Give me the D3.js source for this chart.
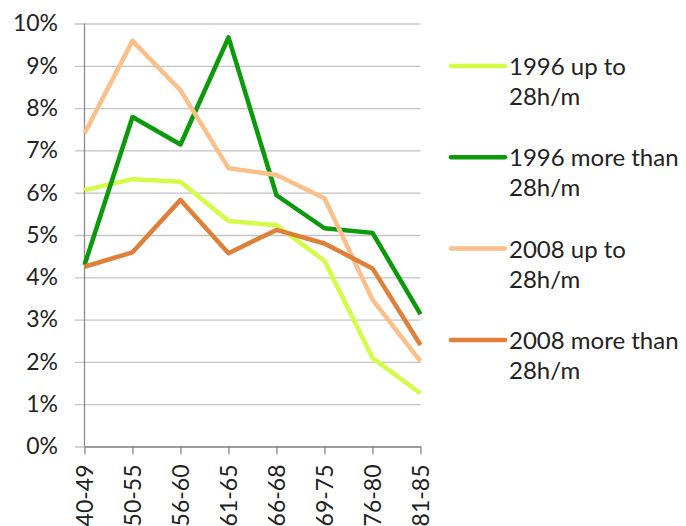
<!DOCTYPE html>
<html>
<head>
<meta charset="utf-8">
<script src="https://cdn.jsdelivr.net/npm/d3@7"></script>
<style>
  body { margin: 0; background: #fff; }
  svg { display: block; font-family: Lato, "Open Sans", sans-serif; }
</style>
</head>
<body>
<svg width="686" height="526"></svg>
<script>
const ageGroups = ["40-49", "50-55", "56-60", "61-65", "66-68", "69-75", "76-80", "81-85"];
const seriesNames = [["1996 up to", "28h/m"], ["1996 more than", "28h/m"], ["2008 up to", "28h/m"], ["2008 more than", "28h/m"]];
const seriesColors = ["#d2fc46", "#0a9a0a", "#fbbf8a", "#df7f38"];
const up1996 = [6.06, 6.32, 6.26, 5.33, 5.23, 4.39, 2.09, 1.26];
const more1996 = [4.29, 7.79, 7.14, 9.67, 5.94, 5.16, 5.05, 3.13];
const up2008 = [7.40, 9.59, 8.42, 6.58, 6.42, 5.87, 3.47, 2.01];
const more2008 = [4.25, 4.59, 5.83, 4.57, 5.12, 4.80, 4.21, 2.40];
const yTicks = [0, 1, 2, 3, 4, 5, 6, 7, 8, 9, 10];

const allSeries = [up1996, more1996, up2008, more2008];

const svg = d3.select("svg");
const plotLeft = 84.5, plotRight = 420.5, plotTop = 23.5, plotBottom = 446.5;

const x = d3.scalePoint().domain(ageGroups).range([plotLeft, plotRight]);
const y = d3.scaleLinear().domain([0, 10]).range([plotBottom, plotTop]);

// gridlines + y labels
const yAxis = svg.append("g")
  .attr("transform", `translate(75,0)`)
  .call(d3.axisLeft(y).tickValues(yTicks)
    .tickFormat(d => d + "%")
    .tickSizeInner(-(plotRight - 75)).tickSizeOuter(0).tickPadding(17));
yAxis.select(".domain").remove();
yAxis.selectAll(".tick line").attr("stroke", "#c4c4c4").attr("stroke-width", 1.3);
yAxis.selectAll(".tick text")
  .attr("font-size", 23).attr("fill", "#222").attr("font-family", "Lato, sans-serif");

// vertical axis line
svg.append("line")
  .attr("x1", plotLeft).attr("x2", plotLeft)
  .attr("y1", plotTop).attr("y2", plotBottom)
  .attr("stroke", "#8a8a8a").attr("stroke-width", 1.3);

// x axis
const xAxis = svg.append("g")
  .attr("transform", `translate(0,${plotBottom})`)
  .call(d3.axisBottom(x).tickSizeInner(8).tickSizeOuter(0));
xAxis.select(".domain").attr("stroke", "#8a8a8a").attr("stroke-width", 1.3);
xAxis.selectAll(".tick line").attr("stroke", "#8a8a8a").attr("stroke-width", 1.3);
xAxis.selectAll(".tick text")
  .attr("font-size", 23).attr("fill", "#222").attr("font-family", "Lato, sans-serif")
  .attr("transform", "rotate(-90)")
  .attr("text-anchor", "end")
  .attr("x", -18).attr("y", 0).attr("dy", "0.35em");

// lines
const line = d3.line()
  .x((d, i) => x(ageGroups[i]))
  .y(d => y(d));

allSeries.forEach((s, i) => {
  svg.append("path")
    .datum(s)
    .attr("fill", "none")
    .attr("stroke", seriesColors[i])
    .attr("stroke-width", 4.5)
    .attr("stroke-linejoin", "round")
    .attr("d", line);
});

// legend
const legend = svg.append("g");
seriesNames.forEach((name, i) => {
  const ly = 66 + i * 91.3;
  legend.append("line")
    .attr("x1", 451).attr("x2", 505)
    .attr("y1", ly).attr("y2", ly)
    .attr("stroke", seriesColors[i]).attr("stroke-width", 4.5)
    .attr("stroke-linecap", "round");
  const t = legend.append("text")
    .attr("x", 509).attr("y", ly + 9)
    .attr("font-size", 24).attr("fill", "#222");
  t.append("tspan").attr("x", 509).text(name[0]);
  t.append("tspan").attr("x", 509).attr("dy", 30).text(name[1]);
});
</script>
</body>
</html>
